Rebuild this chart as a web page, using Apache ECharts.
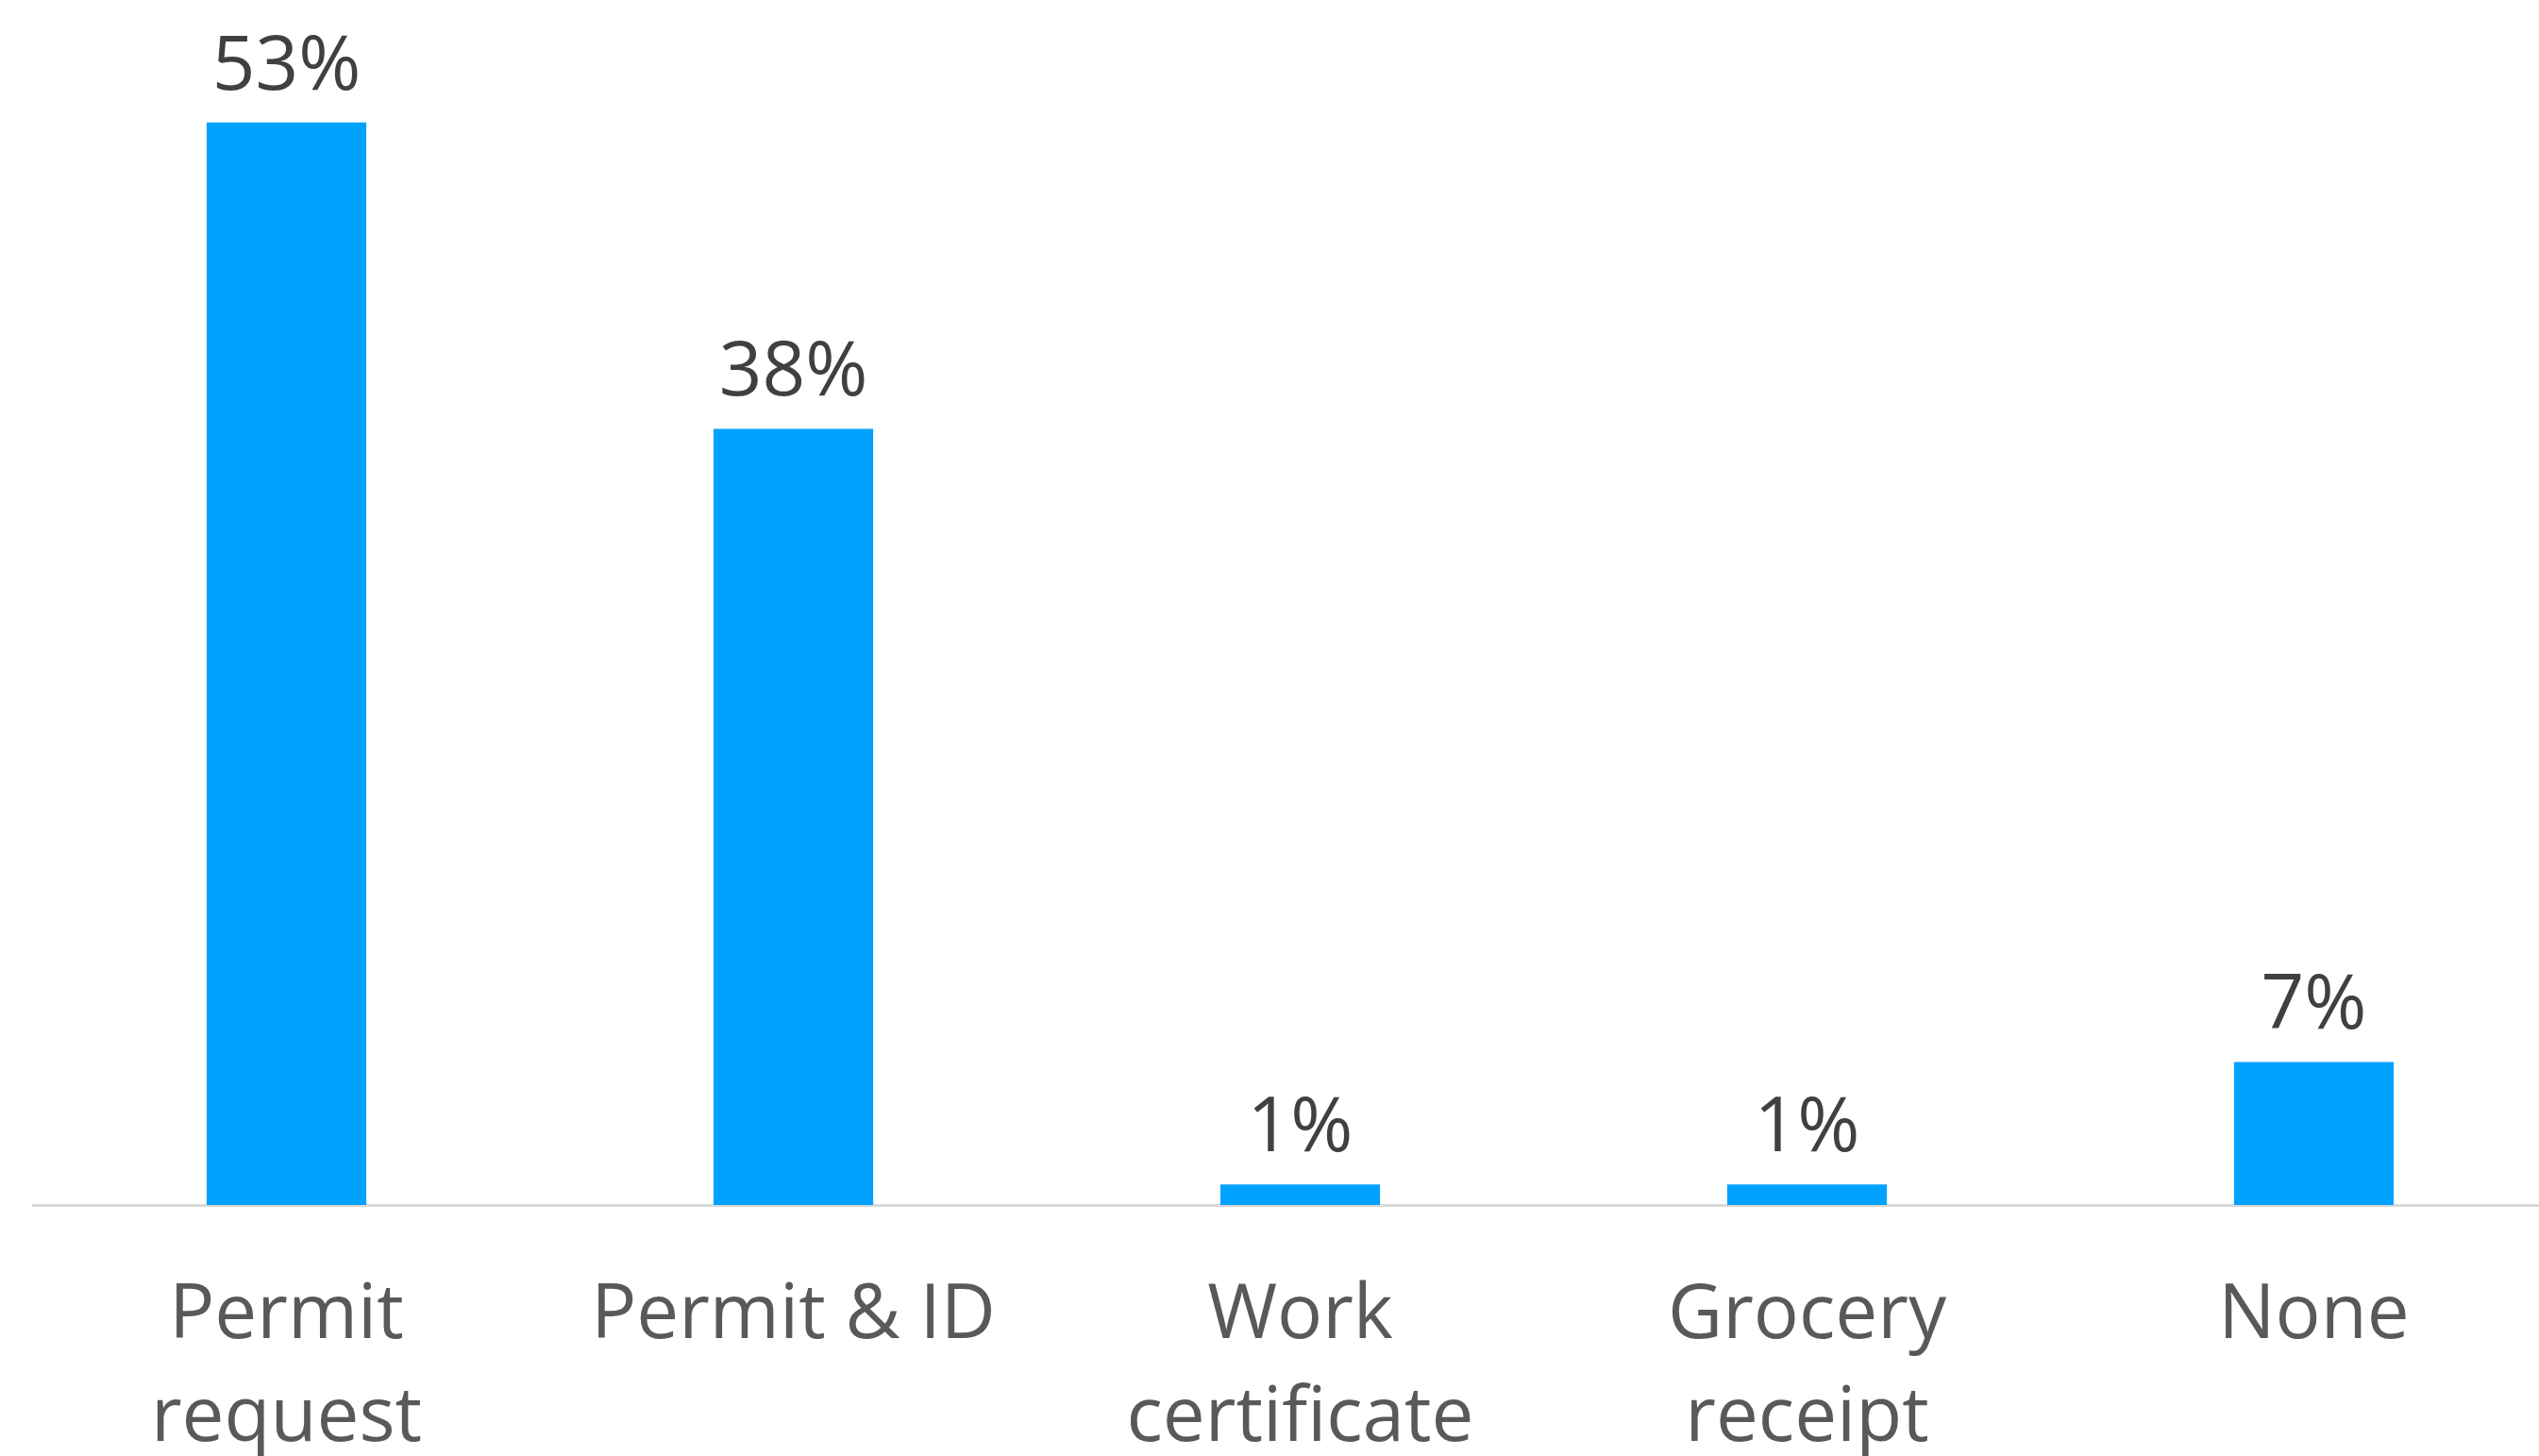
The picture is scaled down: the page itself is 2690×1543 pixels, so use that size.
<!DOCTYPE html>
<html>
<head>
<meta charset="utf-8">
<script src="https://cdn.jsdelivr.net/npm/echarts@6/dist/echarts.min.js"></script>
<style>
  html, body { margin: 0; padding: 0; background: #ffffff; }
  #chart { width: 2690px; height: 1543px; }
</style>
</head>
<body>
<div id="chart"></div>
<script>
// Share of respondents by document shown
const categories = ['Permit\nrequest', 'Permit & ID', 'Work\ncertificate', 'Grocery\nreceipt', 'None'];
const shares = [53, 38, 1, 1, 7];

const chart = echarts.init(document.getElementById('chart'), null, { renderer: 'canvas' });

chart.setOption({
  backgroundColor: '#ffffff',
  animation: false,
  grid: {
    left: 35,
    top: 0,
    width: 2685,
    bottom: 266,
    containLabel: false,
    outerBoundsMode: 'none'
  },
  xAxis: {
    type: 'category',
    data: categories,
    axisLine: { show: true, lineStyle: { color: '#d9d9d9', width: 3 } },
    axisTick: { show: false },
    axisLabel: {
      color: '#595959',
      fontFamily: 'Open Sans',
      fontSize: 80,
      lineHeight: 109,
      margin: 64,
      interval: 0
    }
  },
  yAxis: {
    type: 'value',
    min: 0,
    max: 59,
    show: false,
    splitLine: { show: false }
  },
  series: [{
    type: 'bar',
    data: shares,
    barWidth: '31.5%',
    itemStyle: { color: '#00a2ff' },
    label: {
      show: true,
      position: 'top',
      distance: 18,
      color: '#404040',
      fontFamily: 'Open Sans',
      fontSize: 80,
      formatter: p => p.value + '%'
    }
  }]
});
</script>
</body>
</html>
